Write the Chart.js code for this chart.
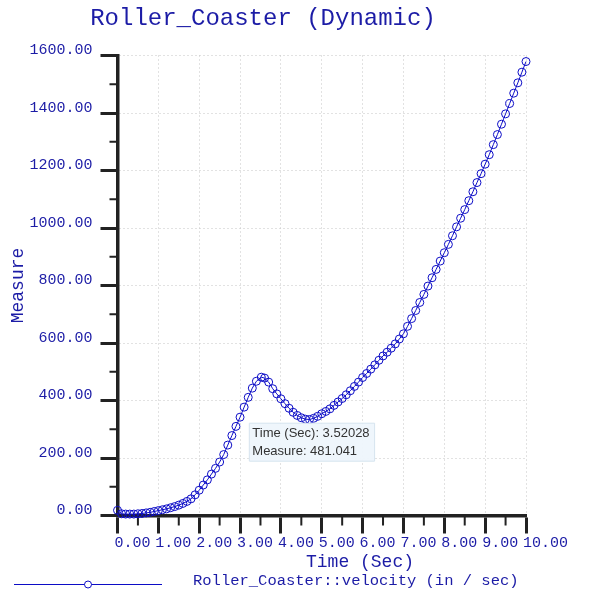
<!DOCTYPE html>
<html>
<head>
<meta charset="utf-8">
<script src="https://cdn.jsdelivr.net/npm/chart.js@4.4.0/dist/chart.umd.min.js"></script>
<style>
  html, body { margin: 0; padding: 0; background: #fff; }
  #wrap { width: 600px; height: 600px; }
</style>
</head>
<body>
<div id="wrap"><canvas id="chart" width="600" height="600"></canvas></div>
<script>
"use strict";

const chartTitle = "Roller_Coaster (Dynamic)";
const xTitle = "Time (Sec)";
const yTitle = "Measure";
const seriesLabel = "Roller_Coaster::velocity (in / sec)";

// samples (time in sec, velocity in in/sec)
const timeSec = [
  0.0, 0.1, 0.2, 0.3, 0.4, 0.5, 0.6, 0.7, 0.8, 0.9,
  1.0, 1.1, 1.2, 1.3, 1.4, 1.5, 1.6, 1.7, 1.8, 1.9,
  2.0, 2.1, 2.2, 2.3, 2.4, 2.5, 2.6, 2.7, 2.8, 2.9,
  3.0, 3.1, 3.2, 3.3, 3.4, 3.52028, 3.6, 3.7, 3.8, 3.9,
  4.0, 4.1, 4.2, 4.3, 4.4, 4.5, 4.6, 4.7, 4.8, 4.9,
  5.0, 5.1, 5.2, 5.3, 5.4, 5.5, 5.6, 5.7, 5.8, 5.9,
  6.0, 6.1, 6.2, 6.3, 6.4, 6.5, 6.6, 6.7, 6.8, 6.9,
  7.0, 7.1, 7.2, 7.3, 7.4, 7.5, 7.6, 7.7, 7.8, 7.9,
  8.0, 8.1, 8.2, 8.3, 8.4, 8.5, 8.6, 8.7, 8.8, 8.9,
  9.0, 9.1, 9.2, 9.3, 9.4, 9.5, 9.6, 9.7, 9.8, 9.9,
  10.0,
];
const velocity = [
  18, 6, 5, 5, 5, 6, 7, 9, 11, 14,
  17, 20, 23, 27, 31, 36, 42, 49, 58, 72,
  88, 106, 124, 144, 164, 186, 212, 245, 278, 310,
  342, 377, 411, 443, 467, 481.041, 478, 464, 441, 423,
  406, 389, 373, 359, 348, 340, 335, 334, 338, 345,
  354, 362, 371, 383, 395, 407, 420, 434, 449, 464,
  480, 494, 509, 524, 540, 555, 568, 582, 597, 614,
  632, 658, 685, 713, 741, 769, 798, 827, 856, 885,
  914, 943, 973, 1004, 1034, 1064, 1095, 1126, 1158, 1189,
  1222, 1255, 1290, 1325, 1361, 1397, 1433, 1469, 1505, 1542,
  1579,
];

const xTicks = [0, 1, 2, 3, 4, 5, 6, 7, 8, 9, 10];
const yTicks = [0, 200, 400, 600, 800, 1000, 1200, 1400, 1600];
const xMinorTicks = [0.5, 1.5, 2.5, 3.5, 4.5, 5.5, 6.5, 7.5, 8.5, 9.5];
const yMinorTicks = [100, 300, 500, 700, 900, 1100, 1300, 1500];

// the point under the mouse in the screenshot
const hoverIndex = timeSec.indexOf(3.52028);

const NAVY = "#1c1ca6";
const BLUE = "#0c0cc6";
const AXIS = "#222222";
const GRID = "#c4c4c4";
const MONO = "'Liberation Mono', 'DejaVu Sans Mono', monospace";

Chart.Tooltip.positioners.pinned = function (items) {
  if (!items.length) return false;
  const el = items[0].element;
  return { x: el.x - 12, y: el.y + 44 };
};

const extras = {
  id: "extras",
  beforeDatasetsDraw(c) {
    const ctx = c.ctx;
    const xs = c.scales.x;
    const ys = c.scales.y;
    ctx.save();
    ctx.strokeStyle = AXIS;
    ctx.lineWidth = 2;
    ctx.beginPath();
    xMinorTicks.forEach((v) => {
      const px = xs.getPixelForValue(v);
      ctx.moveTo(px, xs.top);
      ctx.lineTo(px, xs.top + 10);
    });
    yMinorTicks.forEach((v) => {
      const py = ys.getPixelForValue(v);
      ctx.moveTo(ys.right, py);
      ctx.lineTo(ys.right - 8, py);
    });
    ctx.stroke();
    ctx.restore();
  },
  afterDraw(c) {
    const ctx = c.ctx;
    const ds = c.data.datasets[0];
    ctx.save();
    // x axis title sits right of centre in the original
    ctx.fillStyle = NAVY;
    ctx.font = "18px " + MONO;
    ctx.textAlign = "center";
    ctx.textBaseline = "alphabetic";
    ctx.fillText(xTitle, 360, 567);

    // legend row
    ctx.strokeStyle = ds.borderColor;
    ctx.lineWidth = 1;
    ctx.beginPath();
    ctx.moveTo(14, 584.5);
    ctx.lineTo(162, 584.5);
    ctx.stroke();
    ctx.beginPath();
    ctx.arc(88, 584.5, 3.5, 0, Math.PI * 2);
    ctx.fillStyle = "#fff";
    ctx.fill();
    ctx.stroke();
    ctx.fillStyle = NAVY;
    ctx.font = "15.5px " + MONO;
    ctx.textAlign = "left";
    ctx.fillText(ds.label, 193, 585);
    ctx.restore();
  },
};

const ctx = document.getElementById("chart").getContext("2d");
const chart = new Chart(ctx, {
  type: "line",
  data: {
    datasets: [
      {
        label: seriesLabel,
        data: timeSec.map((t, i) => ({ x: t, y: velocity[i] })),
        borderColor: BLUE,
        borderWidth: 1,
        tension: 0,
        pointRadius: 4,
        pointHoverRadius: 4,
        pointBorderWidth: 1,
        pointHoverBorderWidth: 2,
        pointBorderColor: BLUE,
        pointBackgroundColor: "rgba(0,0,0,0)",
        clip: 8,
      },
    ],
  },
  options: {
    responsive: false,
    animation: false,
    events: [],
    layout: { padding: { left: 0, right: 74, top: 0, bottom: 0 } },
    scales: {
      x: {
        type: "linear",
        min: 0,
        max: 10,
        afterBuildTicks: (s) => { s.ticks = xTicks.map((v) => ({ value: v })); },
        afterFit: (s) => { s.height = 84.5; },
        ticks: {
          color: NAVY,
          font: { family: MONO, size: 15 },
          padding: 1,
          align: "start",
          labelOffset: -3,
          maxRotation: 0,
          autoSkip: false,
          callback: (v) => Number(v).toFixed(2),
        },
        grid: { color: GRID, lineWidth: 1, tickLength: 18, tickWidth: 3, tickColor: AXIS },
        border: { color: AXIS, width: 3.5, dash: [1, 3] },
      },
      y: {
        type: "linear",
        min: 0,
        max: 1600,
        afterBuildTicks: (s) => { s.ticks = yTicks.map((v) => ({ value: v })); },
        afterFit: (s) => { s.width = 117.5; },
        ticks: {
          color: NAVY,
          font: { family: MONO, size: 15 },
          padding: 8,
          labelOffset: -5,
          callback: (v) => Number(v).toFixed(2),
        },
        grid: { color: GRID, lineWidth: 1, tickLength: 17, tickWidth: 3, tickColor: AXIS },
        border: { color: AXIS, width: 3.5, dash: [1, 3] },
        title: {
          display: true,
          text: yTitle,
          color: NAVY,
          font: { family: MONO, size: 18 },
          padding: { top: 7, bottom: 0 },
        },
      },
    },
    plugins: {
      legend: { display: false },
      title: {
        display: true,
        text: chartTitle,
        color: NAVY,
        font: { family: MONO, size: 24, weight: "normal" },
        padding: { top: 4, bottom: 22.7 },
      },
      tooltip: {
        enabled: true,
        position: "pinned",
        xAlign: "left",
        yAlign: "top",
        caretSize: 0,
        caretPadding: 2,
        cornerRadius: 0,
        backgroundColor: "rgba(238,246,252,0.95)",
        borderColor: "#d6e4ef",
        borderWidth: 1,
        displayColors: false,
        padding: { left: 3, right: 5, top: 2, bottom: 2 },
        bodyColor: "#333333",
        bodyFont: { family: "'Liberation Sans', Arial, sans-serif", size: 13, lineHeight: 1.23 },
        animation: false,
        callbacks: {
          title: () => [],
          label: (item) => [xTitle + ": " + item.parsed.x, yTitle + ": " + item.parsed.y],
        },
      },
    },
  },
  plugins: [extras],
});

chart.tooltip.setActiveElements([{ datasetIndex: 0, index: hoverIndex }], { x: 0, y: 0 });
chart.update();
</script>
</body>
</html>
